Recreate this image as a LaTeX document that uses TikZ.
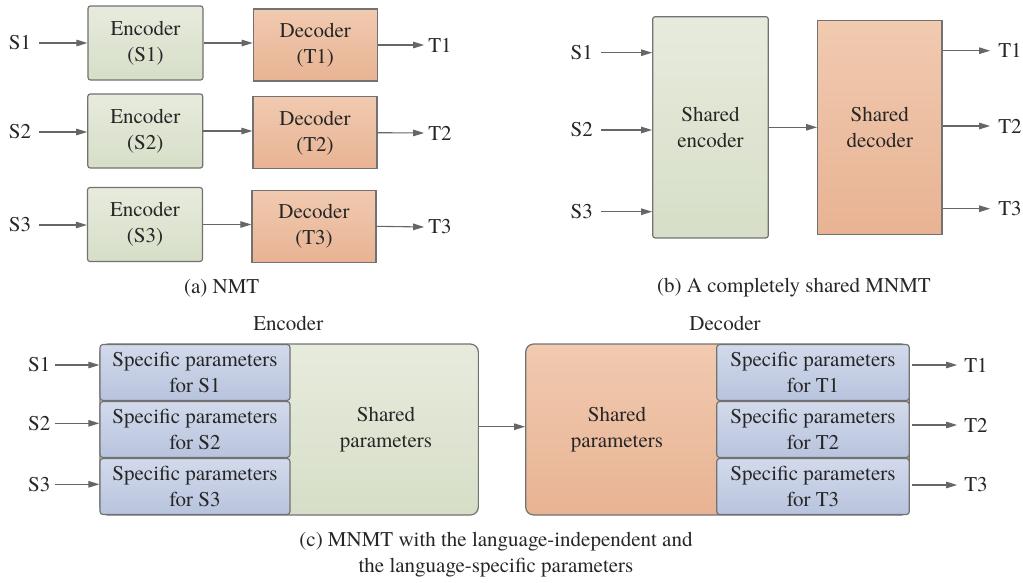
\documentclass[tikz,border=0pt]{standalone}
\usepackage{fontspec}
\setmainfont{TeX Gyre Termes}
\usetikzlibrary{arrows.meta}
\definecolor{edgegray}{HTML}{727272}
\definecolor{arrgray}{HTML}{666666}
\definecolor{grntop}{HTML}{E7EBDD}
\definecolor{grnbot}{HTML}{D6DEC7}
\definecolor{orgtop}{HTML}{F1CAB0}
\definecolor{orgbot}{HTML}{E8B393}
\definecolor{blutop}{HTML}{D2DAEB}
\definecolor{blubot}{HTML}{B8C3DD}
\tikzset{
  txt/.style={font=\rmfamily\fontsize{21}{26}\selectfont, align=center, inner sep=0pt, text=black!85},
  box/.style={txt, draw=edgegray, line width=1.2pt},
  encbox/.style={box, top color=grntop, bottom color=grnbot, rounded corners=2.5pt},
  decbox/.style={box, top color=orgtop, bottom color=orgbot},
  specbox/.style={box, top color=blutop, bottom color=blubot, rounded corners=3pt},
  arr/.style={draw=arrgray, line width=1.1pt, -{Triangle[length=11pt,width=6.5pt]}, arrgray},
}
\begin{document}
\begin{tikzpicture}[x=1pt, y=-1pt]
\useasboundingbox (0,0) rectangle (1023,582);

% ---------- (a) separate encoder/decoder pairs ----------
\node[encbox, minimum width=115pt, minimum height=74pt] (ea1) at (145.5,43) {Encoder\\(S1)};
\node[encbox, minimum width=115pt, minimum height=74pt] (ea2) at (145.3,131) {Encoder\\(S2)};
\node[encbox, minimum width=115pt, minimum height=74pt] (ea3) at (145,224.5) {Encoder\\(S3)};
\node[decbox, minimum width=124pt, minimum height=72pt] (da1) at (315.3,45) {Decoder\\(T1)};
\node[decbox, minimum width=124pt, minimum height=72pt] (da2) at (315,132.7) {Decoder\\(T2)};
\node[decbox, minimum width=124pt, minimum height=72pt] (da3) at (314,226.3) {Decoder\\(T3)};
\node[txt] (sa1) at (20,43) {S1};
\node[txt] (sa2) at (20,132) {S2};
\node[txt] (sa3) at (20,225) {S3};
\node[txt] (ta1) at (440,45) {T1};
\node[txt] (ta2) at (440,133) {T2};
\node[txt] (ta3) at (440,227) {T3};
\foreach \i in {1,2,3}{
  \draw[arr] ([xshift=8pt]sa\i.east) -- (ea\i.west |- sa\i);
  \draw[arr] (ea\i.east) -- (da\i.west |- ea\i);
  \draw[arr] (da\i.east) -- ([xshift=-4pt]ta\i.west);
}
\node[txt] (capa) at (221.7,288) {(a) NMT};

% ---------- (b) fully shared encoder/decoder ----------
\node[encbox, minimum width=115.6pt, minimum height=221.3pt] (eb) at (710.5,127.3) {Shared\\encoder};
\node[decbox, minimum width=124.3pt, minimum height=213.6pt] (db) at (879.8,127.5) {Shared\\decoder};
\node[txt] (sb1) at (581.7,52.7) {S1};
\node[txt] (sb2) at (581.7,130) {S2};
\node[txt] (sb3) at (581.7,211.7) {S3};
\node[txt] (tb1) at (1010,50.7) {T1};
\node[txt] (tb2) at (1010,126) {T2};
\node[txt] (tb3) at (1010,208.7) {T3};
\foreach \i in {1,2,3}{
  \draw[arr] ([xshift=8pt]sb\i.east) -- (eb.west |- sb\i);
  \draw[arr] (db.east |- tb\i) -- ([xshift=-8pt]tb\i.west);
}
\draw[arr] (eb.east) -- (db.west |- eb);
\node[txt] (capb) at (794,288) {(b) A completely shared MNMT};

% ---------- (c) shared plus language-specific parameters ----------
\node[txt] (enclab) at (288.3,323) {Encoder};
\node[txt] (declab) at (725,323) {Decoder};
\node[encbox, rounded corners=8pt, minimum width=378.3pt, minimum height=171pt] (ec) at (289.2,429.5) {};
\node[decbox, rounded corners=8pt, minimum width=383.6pt, minimum height=171pt] (dc) at (717.5,429.5) {};
\node[txt] (ecs) at (386,430) {Shared\\parameters};
\node[txt] (dcs) at (617,430) {Shared\\parameters};
\node[specbox, minimum width=190pt, minimum height=56pt] (pe1) at (195,372.5) {Specific parameters\\for S1};
\node[specbox, minimum width=190pt, minimum height=56pt] (pe2) at (195,429.5) {Specific parameters\\for S2};
\node[specbox, minimum width=190pt, minimum height=56pt] (pe3) at (195,486.5) {Specific parameters\\for S3};
\node[specbox, minimum width=192.6pt, minimum height=56pt] (pd1) at (813,372.5) {Specific parameters\\for T1};
\node[specbox, minimum width=192.6pt, minimum height=56pt] (pd2) at (813,429.5) {Specific parameters\\for T2};
\node[specbox, minimum width=192.6pt, minimum height=56pt] (pd3) at (813,486.5) {Specific parameters\\for T3};
\node[txt] (sc1) at (39.3,365) {S1};
\node[txt] (sc2) at (39.3,423.3) {S2};
\node[txt] (sc3) at (39.3,484.3) {S3};
\node[txt] (tc1) at (976,365) {T1};
\node[txt] (tc2) at (976,425) {T2};
\node[txt] (tc3) at (976,485) {T3};
\foreach \i in {1,2,3}{
  \draw[arr] ([xshift=4pt]sc\i.east) -- (pe\i.west |- sc\i);
  \draw[arr] ([xshift=2.5pt]pd\i.east |- tc\i) -- ([xshift=-7pt]tc\i.west);
}
\draw[arr] (ec.east |- 0,426.7) -- (dc.west |- 0,426.7);
\node[txt] (capc) at (496,554.5) {(c) MNMT with the language-independent and\\the language-specific parameters};
\end{tikzpicture}
\end{document}
